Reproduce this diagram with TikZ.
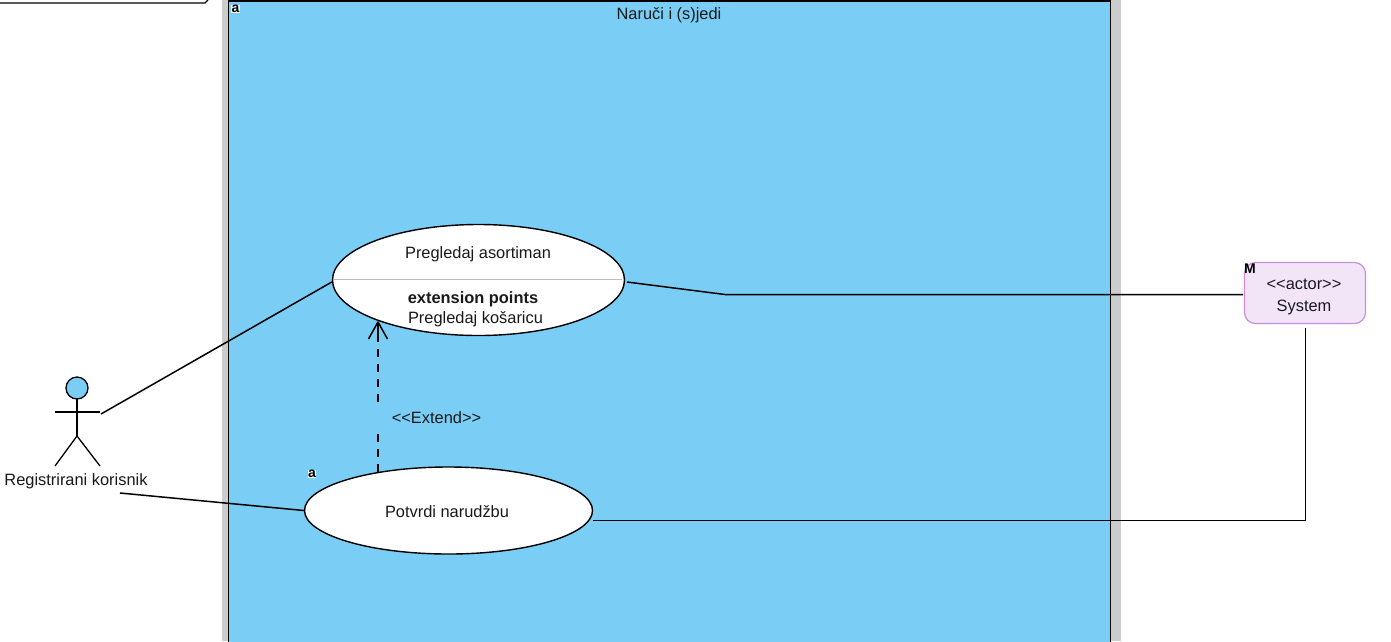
\documentclass[tikz,border=0pt]{standalone}
\usepackage{fontspec}
\setmainfont{Liberation Sans}
\usetikzlibrary{arrows.meta,shapes.geometric}
\definecolor{sysblue}{HTML}{7ACEF5}
\definecolor{bandgray}{HTML}{CCCCCC}
\definecolor{actfill}{HTML}{F3E5F8}
\definecolor{actline}{HTML}{C98EDD}
\definecolor{sepgray}{HTML}{BDBDBD}
\tikzset{
  txt/.style={font=\fontsize{16.4}{18}\selectfont,inner sep=0pt,text=black!90},
  usecase/.style={ellipse,draw=black,fill=white,line width=1.4pt,inner sep=0pt},
  wire/.style={draw=black,line width=1.5pt,line join=round},
  stick/.style={draw=black,line width=1.3pt},
  tag/.style={fill=white,inner sep=0.6pt,font=\fontsize{14}{14}\selectfont\bfseries},
}
\begin{document}
\begin{tikzpicture}[x=1pt,y=-1pt]
\useasboundingbox (0,0) rectangle (1391,641);
\fill[white] (0,0) rectangle (1391,641);
% partly visible box at top left
\draw[stick] (0,3) -- (205,3) -- (208,0);
% system boundary
\fill[bandgray] (222,0) rectangle (1121,641);
\fill[sysblue,draw=black,line width=1.4pt] (228.5,1) rectangle (1110.5,645);
\node[txt] (title) at (669,15) {Naruči i (s)jedi};
\node[tag] (tagsys) at (235.5,9) {a};
% use cases
\node[usecase,minimum width=292pt,minimum height=111pt] (browse) at (478.5,280) {};
\draw[sepgray,line width=0.8pt] (334,279.5) -- (622,279.5);
\node[txt] (browse1) at (478,254) {Pregledaj asortiman};
\node[txt] (browse2) at (473,299) {\bfseries extension points};
\node[txt] (browse3) at (475.5,319.5) {Pregledaj košaricu};
\node[usecase,minimum width=288pt,minimum height=87pt] (confirm) at (448.5,510.5) {};
\node[txt] (confirm1) at (447,512) {Potvrdi narudžbu};
\node[tag] (tagconfirm) at (312,474) {a};
% actor
\draw[stick,fill=sysblue] (77,388) circle (11);
\coordinate (neck) at (77,399);
\coordinate (hip) at (77,436);
\draw[stick] (neck) -- (hip);
\draw[stick] (55,412) -- (100,412);
\draw[stick] (55,466) -- (hip) -- (100,466);
\node[txt] (actorname) at (76,481) {Registrirani korisnik};
\coordinate (armend) at (101,414);
\coordinate (nameend) at (120,493);
% external actor
\node[draw=actline,fill=actfill,line width=1.2pt,rounded corners=11pt,minimum width=121pt,minimum height=61pt,inner sep=0pt] (system) at (1305,293) {};
\node[txt] (sys1) at (1304,284) {<{}<actor>{}>};
\node[txt] (sys2) at (1304,307) {System};
\node[tag,fill=none] (tagm) at (1250,269) {M};
% connectors
\coordinate (bend1) at (725,294.5);
\coordinate (bend2) at (1305.5,520.5);
\coordinate (sysin) at (1243,294.5);
\coordinate (sysdown) at (1305.5,328);
\coordinate (browseright) at (627,282);
\coordinate (confirmright) at (593,520.5);
\draw[wire] (armend) -- (browse.west |- 0,282);
\draw[wire] (nameend) -- (confirm.west);
\draw[wire] (browseright) -- (bend1) -- (sysin);
\draw[wire] (confirmright) -- (bend2) -- (sysdown);
% extend
\coordinate (extstart) at (378,472);
\coordinate (extgapa) at (378,430);
\coordinate (extgapb) at (378,402);
\coordinate (exttip) at (378,322);
\draw[draw=black,line width=1.2pt,dash pattern=on 8pt off 7pt] (extstart) -- (extgapa);
\draw[draw=black,line width=1.2pt,dash pattern=on 8pt off 7pt] (extgapb) -- (378,337);
\draw[draw=black,line width=1.2pt] (378,337) -- (exttip);
\draw[wire] (368.5,339) -- (exttip) -- (387.5,339);
\node[txt] (extlabel) at (436.5,418) {<{}<Extend>{}>};
\end{tikzpicture}
\end{document}
